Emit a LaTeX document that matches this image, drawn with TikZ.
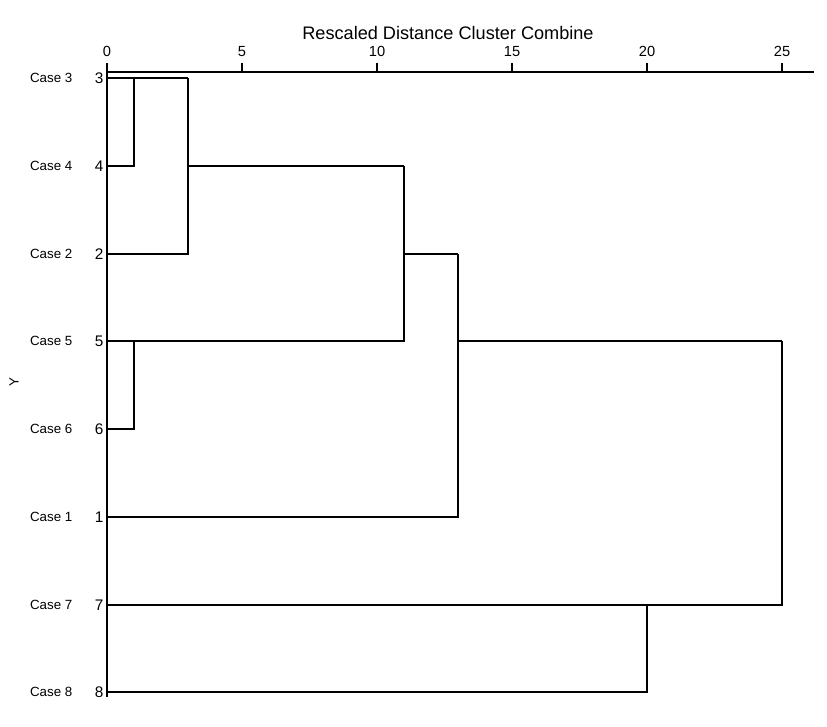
\documentclass[tikz,border=0pt]{standalone}
\usepackage{fontspec}
\setmainfont{Liberation Sans}
\usetikzlibrary{positioning}

\begin{document}
\begin{tikzpicture}[
        x=0.75pt, y=-0.75pt, font=\fontsize{10}{12}\selectfont,
        rama/.style={line width=1.4pt},
        eje/.style={line width=1.4pt},
        caso/.style={anchor=east, inner sep=0pt},
        hoja/.style={anchor=east, inner sep=0pt, font=\fontsize{11.5}{13}\selectfont},
        marca/.style={inner sep=0pt, font=\fontsize{11}{13}\selectfont}]

        \useasboundingbox (0,0) rectangle (827,726);

        % eje superior
        \node[font=\fontsize{13.6}{16}\selectfont] (titulo) at (448,33) {Rescaled Distance Cluster Combine};
        \coordinate (x0)   at (107,72);
        \coordinate (x5)   at (242,72);
        \coordinate (x10)  at (377,72);
        \coordinate (x15)  at (512,72);
        \coordinate (x20)  at (647,72);
        \coordinate (x25)  at (782,72);
        \coordinate (xfin) at (814,72);
        \draw[eje] (x0) -- (xfin);
        \draw[eje] (x0)  -- ++(0,-9) node[marca, above=4pt] (m0)  {0};
        \draw[eje] (x5)  -- ++(0,-9) node[marca, above=4pt] (m5)  {5};
        \draw[eje] (x10) -- ++(0,-9) node[marca, above=4pt] (m10) {10};
        \draw[eje] (x15) -- ++(0,-9) node[marca, above=4pt] (m15) {15};
        \draw[eje] (x20) -- ++(0,-9) node[marca, above=4pt] (m20) {20};
        \draw[eje] (x25) -- ++(0,-9) node[marca, above=4pt] (m25) {25};

        % eje izquierdo
        \coordinate (yfin) at (107,697);
        \draw[eje] (x0) -- (yfin);
        \node[rotate=90] (ejey) at (14,382) {Y};

        % hojas
        \coordinate (l3) at (107,78);
        \coordinate (l4) at (107,166);
        \coordinate (l2) at (107,254);
        \coordinate (l5) at (107,341);
        \coordinate (l6) at (107,429);
        \coordinate (l1) at (107,517);
        \coordinate (l7) at (107,605);
        \coordinate (l8) at (107,692);

        \node[hoja] (n3) at ([xshift=-2.5pt]l3) {3};
        \node[hoja] (n4) at ([xshift=-2.5pt]l4) {4};
        \node[hoja] (n2) at ([xshift=-2.5pt]l2) {2};
        \node[hoja] (n5) at ([xshift=-2.5pt]l5) {5};
        \node[hoja] (n6) at ([xshift=-2.5pt]l6) {6};
        \node[hoja] (n1) at ([xshift=-2.5pt]l1) {1};
        \node[hoja] (n7) at ([xshift=-2.5pt]l7) {7};
        \node[hoja] (n8) at ([xshift=-2.5pt]l8) {8};

        \node[caso, left=16.5pt of n3] (c3) {Case 3};
        \node[caso, left=16.5pt of n4] (c4) {Case 4};
        \node[caso, left=16.5pt of n2] (c2) {Case 2};
        \node[caso, left=16.5pt of n5] (c5) {Case 5};
        \node[caso, left=16.5pt of n6] (c6) {Case 6};
        \node[caso, left=16.5pt of n1] (c1) {Case 1};
        \node[caso, left=16.5pt of n7] (c7) {Case 7};
        \node[caso, left=16.5pt of n8] (c8) {Case 8};

        % uniones 3-4 y 2
        \coordinate (a34)  at (134,78);
        \coordinate (b34)  at (188,78);
        \coordinate (a342) at (188,166);
        \coordinate (b342) at (404,166);
        \draw[rama] (l3) -- (b34);
        \draw[rama] (l4) -| (a34);
        \draw[rama] (b34) |- (l2);
        \draw[rama] (a342) -- (b342);

        % union 5-6 y grupo superior
        \coordinate (a56) at (134,341);
        \draw[rama] (l6) -| (a56);
        \draw[rama] (b342) |- (l5);

        % union con 1
        \coordinate (a51) at (404,254);
        \coordinate (b51) at (458,254);
        \draw[rama] (a51) -- (b51);
        \draw[rama] (b51) |- (l1);

        % union 7-8
        \coordinate (a78) at (647,605);
        \draw[rama] (l8) -| (a78);

        % union final
        \coordinate (afin) at (458,341);
        \coordinate (bfin) at (782,341);
        \draw[rama] (afin) -- (bfin);
        \draw[rama] (bfin) |- (l7);
\end{tikzpicture}
\end{document}
